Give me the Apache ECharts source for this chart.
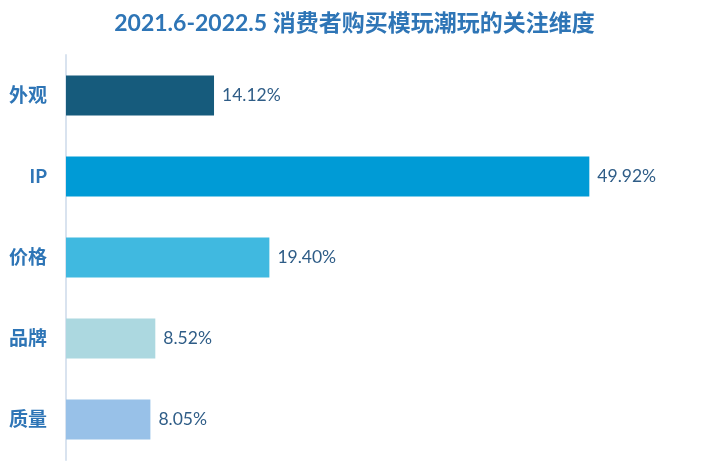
<!DOCTYPE html>
<html>
<head>
<meta charset="utf-8">
<style>
  html, body { margin: 0; padding: 0; background: #fff; }
  #chart { width: 709px; height: 472px; }
</style>
<script src="https://cdn.jsdelivr.net/npm/echarts@6/dist/echarts.min.js"></script>
</head>
<body>
<div id="chart"></div>
<script>
const categories = ["外观", "IP", "价格", "品牌", "质量"];
const values = [14.12, 49.92, 19.40, 8.52, 8.05];
const barColors = ["#165b7c", "#009bd6", "#40b9e0", "#acd8e0", "#98c1e8"];

const chart = echarts.init(document.getElementById("chart"));
chart.setOption({
  animation: false,
  title: {
    text: "2021.6-2022.5 消费者购买模玩潮玩的关注维度",
    left: "center",
    top: 7,
    textStyle: {
      color: "#2e75b6",
      fontSize: 23,
      fontWeight: "bold",
      fontFamily: "Lato, 'Noto Sans CJK SC', sans-serif",
    },
  },
  grid: { left: 66, right: 14, top: 55, bottom: 12 },
  xAxis: {
    type: "value",
    min: 0,
    max: 60,
    show: false,
  },
  yAxis: {
    type: "category",
    inverse: true,
    data: categories,
    axisLine: { lineStyle: { color: "#d9e3ef", width: 2 } },
    axisTick: { show: false },
    axisLabel: {
      color: "#2e75b6",
      fontSize: 19,
      fontWeight: "bold",
      margin: 19,
      fontFamily: "Lato, 'Noto Sans CJK SC', sans-serif",
    },
  },
  series: [
    {
      type: "bar",
      barWidth: 40,
      data: values.map((v, i) => ({ value: v, itemStyle: { color: barColors[i] } })),
      label: {
        show: true,
        position: "right",
        distance: 8,
        color: "#2f5d87",
        fontSize: 17.5,
        fontFamily: "Lato, 'Noto Sans', sans-serif",
        formatter: (p) => p.value.toFixed(2) + "%",
      },
    },
  ],
});
</script>
</body>
</html>
